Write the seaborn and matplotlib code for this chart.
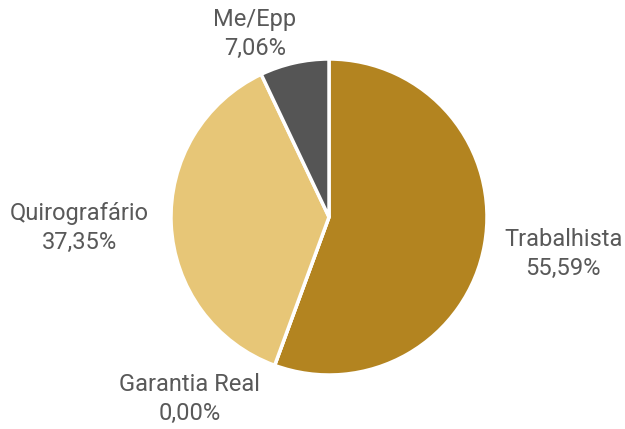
import numpy as np
import matplotlib.pyplot as plt
import seaborn as sns

# --------------------------------------------------------------
# Data
# --------------------------------------------------------------

categories = ["Trabalhista", "Garantia Real", "Quirografário", "Me/Epp"]
shares = [55.59, 0.00, 37.35, 7.06]
colors = ["#B38420", "#B38420", "#E7C677", "#555555"]

# label placement (angle in degrees, distance in radii)
label_angles = [-9.0, 232.6, 182.5, 112.0]
label_dist = [1.50, 1.45, 1.58, 1.25]

# --------------------------------------------------------------
# Plot
# --------------------------------------------------------------

sns.set_theme(style="white")
plt.rcParams["font.family"] = ["Roboto", "DejaVu Sans"]

fig = plt.figure(figsize=(6.25, 4.29), dpi=100)
ax = fig.add_axes([0, 0, 1, 1])

ax.pie(
    shares,
    colors=colors,
    startangle=90,
    counterclock=False,
    radius=1,
    wedgeprops={"edgecolor": "white", "linewidth": 2.5},
)

for name, val, ang, d in zip(categories, shares, label_angles, label_dist):
    a = np.deg2rad(ang)
    txt = f"{name}\n{val:.2f}%".replace(".", ",")
    ax.text(
        d * np.cos(a),
        d * np.sin(a),
        txt,
        ha="center",
        va="center",
        fontsize=17,
        color="#595959",
        linespacing=1.3,
    )

ax.set_aspect("equal")
ax.set_xlim(-329 / 158, (625 - 329) / 158)
ax.set_ylim(-212 / 158, 217 / 158)
ax.axis("off")

fig.savefig("out.png", dpi=100, facecolor="white")
